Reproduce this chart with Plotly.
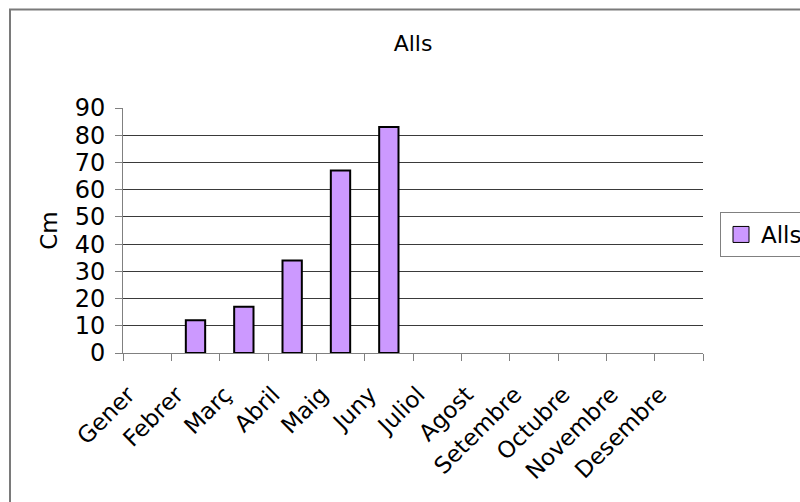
import plotly.graph_objects as go

# Monthly height of the garlic crop (cm)
months = ["Gener", "Febrer", "Març", "Abril", "Maig", "Juny", "Juliol",
          "Agost", "Setembre", "Octubre", "Novembre", "Desembre"]
heights = [None, 12, 17, 34, 67, 83, None, None, None, None, None, None]
y_ticks = [0, 10, 20, 30, 40, 50, 60, 70, 80, 90]
series_name = "Alls"
bar_color = "#CC99FF"

W, H = 800, 502
L, R, T, B = 123, 97, 108, 149
pw, ph = W - L - R, H - T - B

def px_x(x):
    return (x - L) / pw

def px_y(y):
    return (H - B - y) / ph

font = "DejaVu Sans, Verdana, sans-serif"

fig = go.Figure()
fig.add_trace(go.Bar(
    x=months, y=heights, name=series_name, showlegend=False,
    marker=dict(color=bar_color, line=dict(color="#000000", width=2)),
    width=0.4,
))
# legend key drawn as a larger square swatch
fig.add_trace(go.Scatter(
    x=[None], y=[None], name=series_name, mode="markers",
    marker=dict(symbol="square", size=18, color=bar_color,
                line=dict(color="#000000", width=1)),
))

fig.update_layout(
    width=W, height=H,
    margin=dict(l=L, r=R, t=T, b=B, autoexpand=False),
    paper_bgcolor="white", plot_bgcolor="white",
    font=dict(family=font, color="#000000"),
    title=dict(text="Alls", x=px_x(413), xref="paper", xanchor="center",
               y=1 - 43 / H, yanchor="middle", font=dict(size=22)),
    showlegend=True,
    legend=dict(x=px_x(720), y=px_y(212), xanchor="left", yanchor="top",
                bgcolor="white", bordercolor="#808080", borderwidth=1,
                font=dict(size=23), itemsizing="trace",
                tracegroupgap=0, itemwidth=30),
)

fig.update_xaxes(
    type="category", categoryorder="array", categoryarray=months,
    range=[-0.5, 11.5],
    showline=True, linecolor="#808080", linewidth=1,
    ticks="outside", tickson="boundaries", ticklen=7, tickcolor="#808080",
    tickangle=-45, tickfont=dict(size=23), showgrid=False, zeroline=False,
    ticklabelshift=-19, ticklabelstandoff=18,
)
fig.update_yaxes(
    range=[0, 90], tickvals=y_ticks,
    showline=True, linecolor="#808080", linewidth=1,
    ticks="outside", ticklen=7, tickcolor="#808080",
    showgrid=True, gridcolor="#3a3a3a", gridwidth=1, zeroline=False,
    tickfont=dict(size=24), ticklabelstandoff=5,
    title=dict(text="Cm", font=dict(size=23), standoff=10),
)

# outer chart frame
fig.add_shape(type="rect", xref="paper", yref="paper",
              x0=px_x(10), x1=px_x(812), y0=px_y(514), y1=px_y(9.5),
              line=dict(color="#7a7a7a", width=2), layer="below")

fig.write_html("out.html")
